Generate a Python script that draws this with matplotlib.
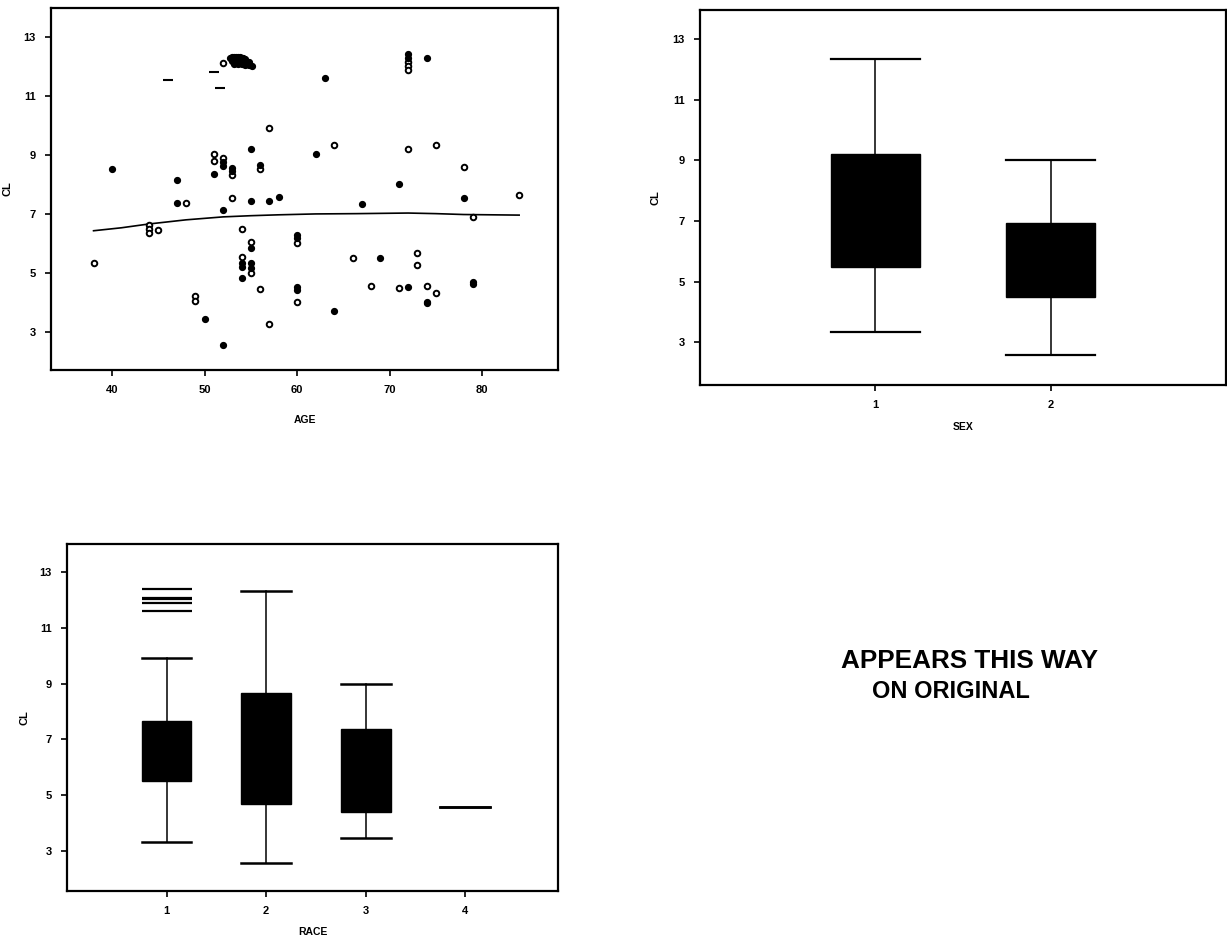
import matplotlib
matplotlib.use('Agg')
import matplotlib.pyplot as plt

# ---------------- data ----------------
# Scatter CL vs AGE (open circles)
age_open = [38, 44, 44, 44, 45, 48, 49, 49, 51, 51, 52, 52, 53, 53, 54, 54, 55, 55,
            56, 56, 57, 57, 60, 60, 64, 66, 68, 71, 72, 72, 72, 72, 73, 73, 74, 75, 75,
            78, 79, 84]
cl_open = [5.33, 6.60, 6.48, 6.35, 6.46, 7.36, 4.20, 4.05, 9.02, 8.79, 8.88, 12.11, 8.31,
           7.54, 6.48, 5.52, 6.04, 4.99, 8.51, 4.43, 9.89, 3.27, 6.00, 4.00, 9.34, 5.51,
           4.56, 4.49, 9.20, 12.15, 12.02, 11.88, 5.65, 5.25, 4.56, 9.32, 4.30, 8.57,
           6.88, 7.62]
# Scatter CL vs AGE (filled circles)
age_filled = [40, 47, 47, 50, 51, 52, 52, 52, 52, 53, 53, 54, 54, 54, 55, 55, 55, 55, 55,
              56, 57, 58, 60, 60, 60, 60, 62, 63, 64, 67, 69, 71, 72, 72, 72, 74, 74, 74,
              78, 79, 79]
cl_filled = [8.51, 8.14, 7.36, 3.42, 8.34, 8.74, 8.60, 7.14, 2.54, 8.55, 8.43, 5.33, 5.20,
             4.82, 9.20, 7.42, 5.85, 5.31, 5.16, 8.65, 7.42, 7.58, 6.27, 6.16, 4.51, 4.42,
             9.03, 11.60, 3.71, 7.31, 5.51, 7.99, 4.51, 12.40, 12.28, 12.29, 4.02, 3.96,
             7.53, 4.67, 4.60]
# dense smudge of overlapping points near AGE 53-55, CL ~12.2
age_blob = [52.8, 53.0, 53.2, 53.4, 53.6, 53.8, 54.0, 54.2, 54.4, 53.0, 53.3, 53.6, 53.9,
            54.2, 54.5, 54.8, 53.2, 53.6, 54.0, 54.4, 54.8, 55.1]
cl_blob = [12.28, 12.30, 12.32, 12.32, 12.30, 12.30, 12.28, 12.26, 12.24, 12.18, 12.18,
           12.18, 12.18, 12.16, 12.15, 12.14, 12.08, 12.07, 12.06, 12.05, 12.04, 12.02]
# smoothed (lowess) curve
lowess_age = [38, 41, 44, 48, 52, 55, 58, 62, 66.5, 72, 75, 78, 81, 84]
lowess_cl = [6.42, 6.52, 6.65, 6.79, 6.89, 6.93, 6.96, 6.99, 7.00, 7.02, 7.00, 6.97, 6.96, 6.95]
# small stray dashes in the scatter panel
mark_age = [51.0, 46.1, 51.7]
mark_cl = [11.81, 11.53, 11.26]

# Box plot CL by SEX
sex_labels = ['1', '2']
sex_whislo = [3.35, 2.59]
sex_q1 = [5.48, 4.51]
sex_med = [7.0, 5.5]
sex_q3 = [9.20, 6.93]
sex_whishi = [12.35, 9.00]

# Box plot CL by RACE
race_labels = ['1', '2', '3', '4']
race_whislo = [3.34, 2.56, 3.46, 4.58]
race_q1 = [5.50, 4.67, 4.41, 4.58]
race_med = [6.5, 6.5, 5.5, 4.58]
race_q3 = [7.67, 8.65, 7.37, 4.58]
race_whishi = [9.91, 12.30, 9.00, 4.58]
race_fliers = [[12.40, 12.08, 12.03, 11.87, 11.61], [], [], []]

yticks = [3, 5, 7, 9, 11, 13]
age_ticks = [40, 50, 60, 70, 80]

# ---------------- style ----------------
plt.rcParams['font.family'] = ['Liberation Sans', 'DejaVu Sans']
plt.rcParams['font.weight'] = 'bold'
W, H = 1227, 941
fig = plt.figure(figsize=(W / 100, H / 100), dpi=100)
fig.patch.set_facecolor('white')


def px_axes(left, top, right, bottom):
    return fig.add_axes([left / W, 1 - bottom / H, (right - left) / W, (bottom - top) / H])


def style(ax, xlabel, xlab_y, ylab_x):
    for s in ax.spines.values():
        s.set_linewidth(1.6)
        s.set_color('black')
    ax.tick_params(direction='out', length=4, width=1.2, labelsize=8, pad=7, colors='black')
    for lab in ax.get_xticklabels() + ax.get_yticklabels():
        lab.set_fontweight('bold')
    ax.set_yticks(yticks)
    ax.set_xlabel(xlabel, fontsize=7.5, fontweight='bold')
    ax.set_ylabel('CL', fontsize=8, fontweight='bold')
    ax.xaxis.set_label_coords(0.5, xlab_y)
    ax.yaxis.set_label_coords(ylab_x, 0.5)


# ---- top-left scatter ----
ax1 = px_axes(51, 8, 558, 370)
ax1.plot(lowess_age, lowess_cl, color='black', lw=1.2, zorder=2)
ax1.plot(age_open, cl_open, linestyle='none', marker='o', markersize=4.0,
         markerfacecolor='white', markeredgecolor='black', markeredgewidth=1.4, zorder=3)
ax1.plot(age_filled, cl_filled, linestyle='none', marker='o', markersize=4.2,
         markerfacecolor='black', markeredgecolor='black', markeredgewidth=1.0, zorder=3)
ax1.plot(age_blob, cl_blob, linestyle='none', marker='o', markersize=4.2,
         markerfacecolor='black', markeredgecolor='black', zorder=3)
ax1.plot(mark_age, mark_cl, linestyle='none', marker='_', markersize=7,
         markeredgewidth=1.5, color='black', zorder=3)
ax1.set_xlim(33.4, 88.2)
ax1.set_ylim(1.7, 13.97)
ax1.set_xticks(age_ticks)
style(ax1, 'AGE', -0.125, -0.075)

# ---- top-right box plot by SEX ----
ax2 = px_axes(700, 10, 1226, 385)
sex_stats = [dict(label=l, whislo=a, q1=b, med=c, q3=d, whishi=e, fliers=[])
             for l, a, b, c, d, e in zip(sex_labels, sex_whislo, sex_q1, sex_med, sex_q3, sex_whishi)]
ax2.bxp(sex_stats, positions=[1, 2], widths=0.51, capwidths=0.51, patch_artist=True,
        boxprops=dict(facecolor='black', edgecolor='black', linewidth=1),
        medianprops=dict(color='black', linewidth=0),
        whiskerprops=dict(color='black', linewidth=1.1),
        capprops=dict(color='black', linewidth=1.6))
ax2.set_xlim(0, 3.0)
ax2.set_ylim(1.6, 13.95)
style(ax2, 'SEX', -0.10, -0.076)

# ---- bottom-left box plot by RACE ----
ax3 = px_axes(67, 544, 558, 891)
race_stats = [dict(label=l, whislo=a, q1=b, med=c, q3=d, whishi=e, fliers=f)
              for l, a, b, c, d, e, f in zip(race_labels, race_whislo, race_q1, race_med,
                                             race_q3, race_whishi, race_fliers)]
ax3.bxp(race_stats, positions=[1, 2, 3, 4], widths=0.5, capwidths=0.5, patch_artist=True,
        boxprops=dict(facecolor='black', edgecolor='black', linewidth=1),
        medianprops=dict(color='black', linewidth=0),
        whiskerprops=dict(color='black', linewidth=1.1),
        capprops=dict(color='black', linewidth=1.8),
        flierprops=dict(marker='_', markersize=36, markeredgewidth=1.6,
                        markeredgecolor='black'))
ax3.set_xlim(0, 4.93)
ax3.set_ylim(1.57, 14.0)
style(ax3, 'RACE', -0.105, -0.077)

# ---- stamp text ----
stamp = dict(fontweight='bold', color='black', ha='center', va='center',
             family=['Liberation Sans', 'DejaVu Sans'])
fig.text(970 / W, 1 - 661 / H, 'APPEARS THIS WAY', fontsize=18.8, **stamp)
fig.text(951 / W, 1 - 691 / H, 'ON ORIGINAL', fontsize=17, **stamp)

fig.savefig('out.png', dpi=100, facecolor='white')
